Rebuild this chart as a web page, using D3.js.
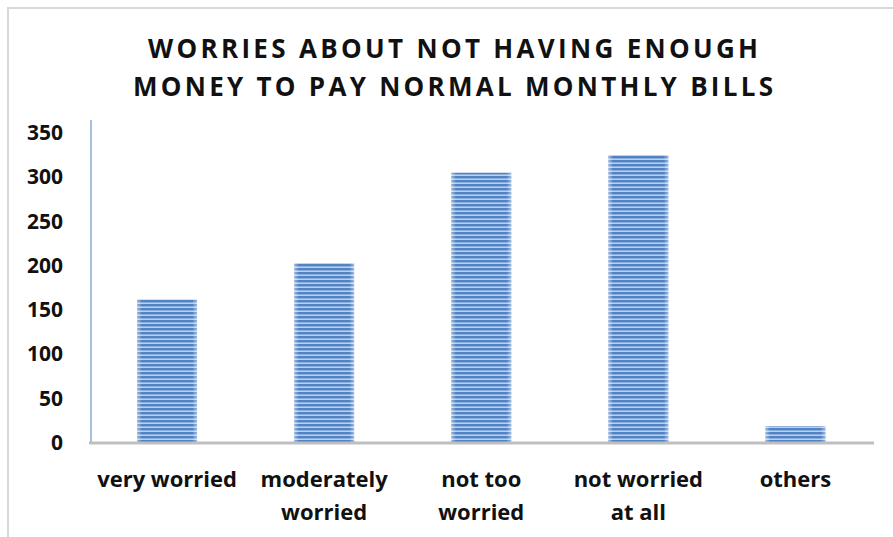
<!DOCTYPE html>
<html>
<head>
<meta charset="utf-8">
<script src="https://cdn.jsdelivr.net/npm/d3@7"></script>
<style>
  html, body { margin: 0; padding: 0; background: #fff; }
  svg { display: block; }
</style>
</head>
<body>
<div id="chart"></div>
<script>
// Survey responses: worries about paying normal monthly bills
const categories = [
  ["very worried"],
  ["moderately", "worried"],
  ["not too", "worried"],
  ["not worried", "at all"],
  ["others"]
];
const counts = [161, 202, 304, 324, 18];
const yTicks = [0, 50, 100, 150, 200, 250, 300, 350];
const titleLines = [
  "WORRIES ABOUT NOT HAVING ENOUGH",
  "MONEY TO PAY NORMAL MONTHLY BILLS"
];

const W = 893, H = 537;
const font = "'Open Sans', 'Liberation Sans', sans-serif";
const svg = d3.select("#chart").append("svg")
  .attr("width", W).attr("height", H);

// Chart frame
svg.append("path")
  .attr("d", `M8,${H} L8,8 L${W},8`)
  .attr("fill", "none")
  .attr("stroke", "#d9d9d9")
  .attr("stroke-width", 2);

// Striped fill for the bars
const defs = svg.append("defs");
const pat = defs.append("pattern")
  .attr("id", "stripes")
  .attr("patternUnits", "userSpaceOnUse")
  .attr("width", 8).attr("height", 4);
pat.append("rect").attr("width", 8).attr("height", 4).attr("fill", "#b9d0ee");
pat.append("rect").attr("y", 0).attr("width", 8).attr("height", 2).attr("fill", "#5082c4");
pat.append("rect").attr("y", 2).attr("width", 8).attr("height", 0.8).attr("fill", "#7fa4d6");

const edge = defs.append("linearGradient").attr("id", "edgeGlow")
  .attr("x1", 0).attr("x2", 1).attr("y1", 0).attr("y2", 0);
[[0, 0.45], [0.08, 0], [0.92, 0], [1, 0.45]].forEach(([o, a]) =>
  edge.append("stop").attr("offset", o).attr("stop-color", "#fff").attr("stop-opacity", a));

const margin = { left: 91, right: 19, top: 132, bottom: 95 };
const x = d3.scaleBand()
  .domain(categories.map((d, i) => i))
  .range([88.5, 874])
  .paddingInner(0)
  .paddingOuter(0);
const y = d3.scaleLinear()
  .domain([0, 350])
  .range([H - margin.bottom, margin.top]);

const barW = x.bandwidth() * 0.382;

// Bars
const bars = svg.append("g");
counts.forEach((v, i) => {
  const bx = x(i) + (x.bandwidth() - barW) / 2;
  bars.append("rect")
    .attr("x", bx).attr("y", y(v))
    .attr("width", barW).attr("height", y(0) - y(v))
    .attr("fill", "url(#stripes)");
  bars.append("rect")
    .attr("x", bx).attr("y", y(v))
    .attr("width", barW).attr("height", y(0) - y(v))
    .attr("fill", "url(#edgeGlow)");
});

// Y axis
const yAxis = svg.append("g")
  .attr("transform", `translate(${margin.left},0)`)
  .call(d3.axisLeft(y).tickValues(yTicks).tickSize(0).tickPadding(28));
yAxis.select(".domain")
  .attr("stroke", "#4f81bd").attr("stroke-width", 1)
  .attr("d", `M0,${y(0)}V${y(350) - 12}`);
yAxis.selectAll("text")
  .attr("font-family", font).attr("font-weight", "bold")
  .attr("font-size", 21).attr("fill", "#111")
  .attr("dy", "0.36em");

// X axis baseline
svg.append("line")
  .attr("x1", margin.left - 2).attr("x2", W - margin.right)
  .attr("y1", y(0) + 1).attr("y2", y(0) + 1)
  .attr("stroke", "#bfbfbf").attr("stroke-width", 3);

// Category labels
const xl = svg.append("g");
categories.forEach((lines, i) => {
  const t = xl.append("text")
    .attr("x", x(i) + x.bandwidth() / 2)
    .attr("y", 487)
    .attr("text-anchor", "middle")
    .attr("font-family", font).attr("font-weight", "bold")
    .attr("font-size", 22).attr("fill", "#111");
  lines.forEach((ln, k) => {
    t.append("tspan").attr("x", x(i) + x.bandwidth() / 2)
      .attr("dy", k === 0 ? 0 : 33).text(ln);
  });
});

// Title
const titleWidths = [610, 640];
titleLines.forEach((ln, k) => {
  svg.append("text")
    .attr("x", 453).attr("y", 58 + k * 38)
    .attr("text-anchor", "middle")
    .attr("font-family", font).attr("font-weight", "bold")
    .attr("font-size", 26)
    .attr("textLength", titleWidths[k])
    .attr("lengthAdjust", "spacing")
    .attr("fill", "#111")
    .text(ln);
});
</script>
</body>
</html>
